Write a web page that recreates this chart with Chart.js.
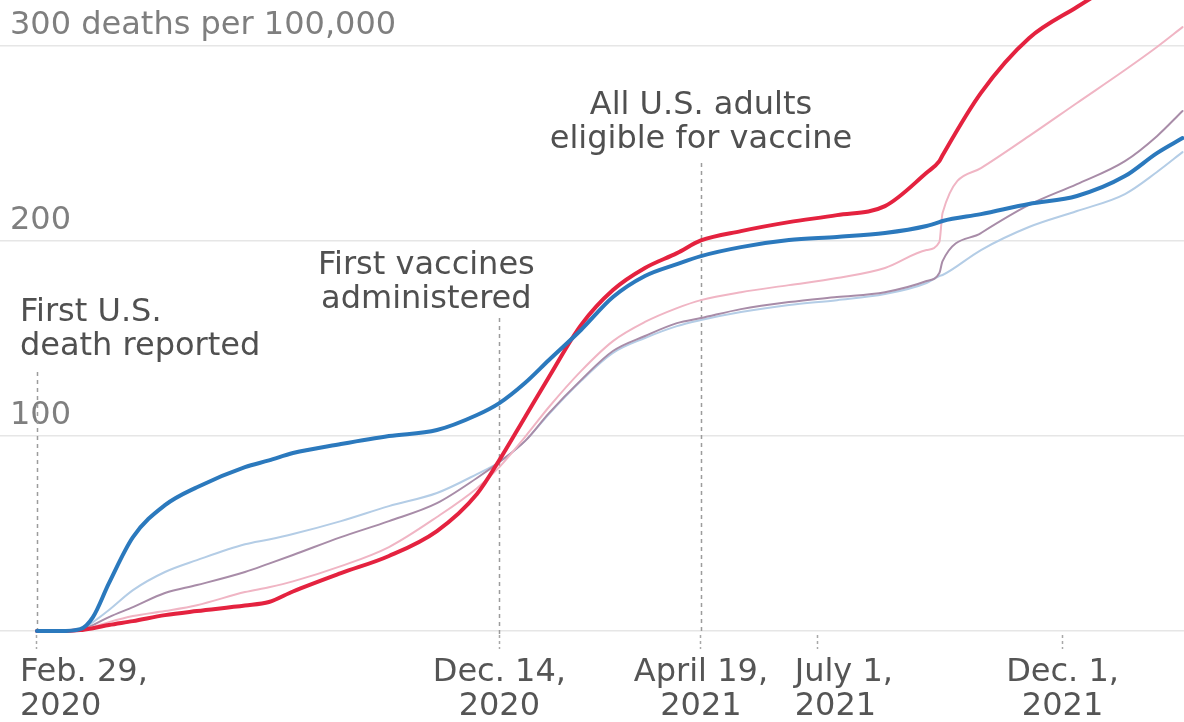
<!DOCTYPE html>
<html>
<head>
<meta charset="utf-8">
<title>Covid deaths per 100,000</title>
<script src="https://cdn.jsdelivr.net/npm/chart.js@4.4.1/dist/chart.umd.min.js"></script>
<style>
  html, body { margin: 0; padding: 0; background: #fff; overflow: hidden; }
  #wrap { position: relative; width: 1184px; height: 722px; }
</style>
</head>
<body>
<div id="wrap"><canvas id="deaths"></canvas></div>
<script>
(function () {
  "use strict";

  // x values: days since Feb. 29, 2020
  var days = [0, 14, 27, 35, 45, 60, 80, 100, 130, 145, 160, 190, 220, 250, 275, 289, 305, 320, 340, 360,
    380, 400, 415, 440, 470, 500, 530, 556, 564, 566, 590, 620, 650, 680, 700, 716];

  // cumulative deaths per 100,000
  var blueLine = [0, 0, 1, 7.2, 24.6, 48.2, 64.6, 73.8, 84.1, 87.5, 91.3, 95.9, 100, 103.1, 110.8, 116.9, 127.2, 139, 154.4, 171.3,
    182.1, 188.2, 192.3, 196.9, 200.5, 202.1, 204.1, 207.7, 209.7, 210.3, 213.8, 219, 223.1, 233.3, 245.1, 252.8];
  var redLine = [0, 0, 0.5, 1.5, 3.1, 5.1, 8.2, 10.3, 13.1, 14.9, 20.3, 29.7, 38.5, 51.3, 70.3, 87.7, 109.7, 130.3, 156.9, 174.9,
    186.2, 193.8, 200.3, 205.1, 209.7, 213.3, 217.9, 235, 241, 244, 276, 304, 320, 335, 344, 352];
  var pinkLine = [0, 0, 0.5, 2.1, 4.6, 7.7, 10.3, 13.3, 20, 22.5, 25.5, 33.3, 43.1, 58.5, 73.3, 84.1, 99.5, 114.9, 133.3, 148.7,
    158.5, 165.6, 169.7, 173.8, 177.4, 181, 186.2, 195.4, 199.5, 214.4, 237.4, 253.8, 270.8, 287.7, 299.5, 309.7];
  var mauveLine = [0, 0, 0.5, 3.1, 7.2, 12.3, 19.5, 23.6, 30.3, 34.6, 39, 48.2, 56.4, 65.6, 78.5, 86.7, 97.4, 111.8, 128.7, 143.6,
    151.3, 157.9, 160.5, 165.1, 168.7, 171.3, 173.8, 179.5, 183.6, 189.7, 204.1, 218.5, 229.2, 241, 253.8, 266.7];
  var lightBlueLine = [0, 0, 0.5, 4.6, 10.8, 21, 30.3, 36.4, 44.5, 47, 49.8, 56.4, 64.1, 70.8, 80.5, 86.7, 97.4, 111.3, 128.2, 142.6,
    150.3, 156.4, 159.5, 163.6, 167.2, 169.7, 172.8, 178.5, 182.1, 182.6, 195.4, 207.2, 215.4, 224.1, 235.4, 245.6];

  var xTicks = [0, 289, 415, 488, 641];
  var xTickLabels = [["Feb. 29,", "2020"], ["Dec. 14,", "2020"], ["April 19,", "2021"], ["July 1,", "2021"], ["Dec. 1,", "2021"]];
  var yTicks = [0, 100, 200, 300];
  var yTickLabels = ["", "100", "200", "300 deaths per 100,000"];

  var FONT = "'DejaVu Sans', sans-serif";
  var FONT_SIZE = 32;
  var LINE_H = 34;
  var TICK_LEN = 14;
  var TICK_PAD = 7;

  // x labels that are left-aligned instead of centred (offset from the tick, px)
  var leftLabels = { 0: -17, 3: -23 };

  // annotation lines and their captions (offsets are in pixels from the line)
  var notes = [
    { day: 0, top: 372, text: ["First U.S.", "death reported"], dx: -17, y: 313, align: "left" },
    { day: 289, top: 318, text: ["First vaccines", "administered"], dx: -73, y: 266, align: "center" },
    { day: 415, top: 163, text: ["All U.S. adults", "eligible for vaccine"], dx: 0, y: 106, align: "center" }
  ];

  function toPoints(values) {
    return days.map(function (d, i) { return { x: d, y: values[i] }; });
  }

  var notesPlugin = {
    id: "notes",
    beforeDatasetsDraw: function (chart) {
      var ctx = chart.ctx;
      var xs = chart.scales.x;
      ctx.save();
      ctx.strokeStyle = "#9c9c9c";
      ctx.lineWidth = 1.5;
      ctx.setLineDash([4, 4]);
      notes.forEach(function (n) {
        var px = Math.round(xs.getPixelForValue(n.day)) + 0.5;
        ctx.beginPath();
        ctx.moveTo(px, n.top);
        ctx.lineTo(px, chart.chartArea.bottom);
        ctx.stroke();
      });
      ctx.restore();
    },
    afterDraw: function (chart) {
      var ctx = chart.ctx;
      var xs = chart.scales.x;
      ctx.save();
      ctx.font = FONT_SIZE + "px " + FONT;
      ctx.fillStyle = "#505050";
      ctx.textBaseline = "middle";
      notes.forEach(function (n) {
        var px = xs.getPixelForValue(n.day) + n.dx;
        ctx.textAlign = n.align;
        n.text.forEach(function (t, i) { ctx.fillText(t, px, n.y + i * LINE_H); });
      });
      // left-aligned x labels
      ctx.textAlign = "left";
      ctx.fillStyle = "#555";
      var ly = xs.top + TICK_LEN + TICK_PAD + LINE_H / 2;
      Object.keys(leftLabels).forEach(function (k) {
        var px = xs.getPixelForValue(xTicks[k]) + leftLabels[k];
        xTickLabels[k].forEach(function (t, i) { ctx.fillText(t, px, ly + i * LINE_H); });
      });
      ctx.restore();
    }
  };

  var ctx = document.getElementById("deaths").getContext("2d");

  new Chart(ctx, {
    type: "line",
    data: {
      datasets: [
        { label: "Blue", data: toPoints(blueLine), borderColor: "#2b79bd", borderWidth: 4 },
        { label: "Red", data: toPoints(redLine), borderColor: "#e4223f", borderWidth: 4 },
        { label: "Pink", data: toPoints(pinkLine), borderColor: "#f0b5c4", borderWidth: 2 },
        { label: "Mauve", data: toPoints(mauveLine), borderColor: "#a88ca8", borderWidth: 2 },
        { label: "Light blue", data: toPoints(lightBlueLine), borderColor: "#b4cde6", borderWidth: 2 }
      ]
    },
    options: {
      responsive: true,
      maintainAspectRatio: false,
      animation: false,
      layout: { padding: 0 },
      elements: {
        point: { radius: 0 },
        line: { cubicInterpolationMode: "monotone", borderCapStyle: "round", borderJoinStyle: "round" }
      },
      plugins: { legend: { display: false }, tooltip: { enabled: false } },
      scales: {
        x: {
          type: "linear",
          min: -23.1,
          max: 716.9,
          afterBuildTicks: function (s) { s.ticks = xTicks.map(function (v) { return { value: v }; }); },
          afterFit: function (s) { s.height = 87; s.paddingLeft = 0; s.paddingRight = 0; },
          ticks: {
            autoSkip: false,
            maxRotation: 0,
            padding: TICK_PAD,
            color: "#555",
            font: { family: FONT, size: FONT_SIZE, lineHeight: LINE_H / FONT_SIZE },
            callback: function (v, i) { return leftLabels[i] !== undefined ? "" : xTickLabels[i]; }
          },
          grid: {
            drawOnChartArea: false,
            drawTicks: true,
            tickLength: TICK_LEN,
            tickColor: "#a8a8a8",
            tickWidth: 1.5,
            tickBorderDash: [3, 3]
          },
          border: { display: false }
        },
        y: {
          min: -2,
          max: 323.6,
          afterBuildTicks: function (s) { s.ticks = yTicks.map(function (v) { return { value: v }; }); },
          afterFit: function (s) { s.width = 0; s.paddingTop = 0; s.paddingBottom = 0; },
          ticks: {
            mirror: true,
            padding: 10,
            labelOffset: -20,
            color: "#7f7f7f",
            font: { family: FONT, size: FONT_SIZE },
            callback: function (v, i) { return yTickLabels[i]; }
          },
          grid: { color: "#e6e6e6", lineWidth: 1.5, drawTicks: false },
          border: { display: false }
        }
      }
    },
    plugins: [notesPlugin]
  });
})();
</script>
</body>
</html>
